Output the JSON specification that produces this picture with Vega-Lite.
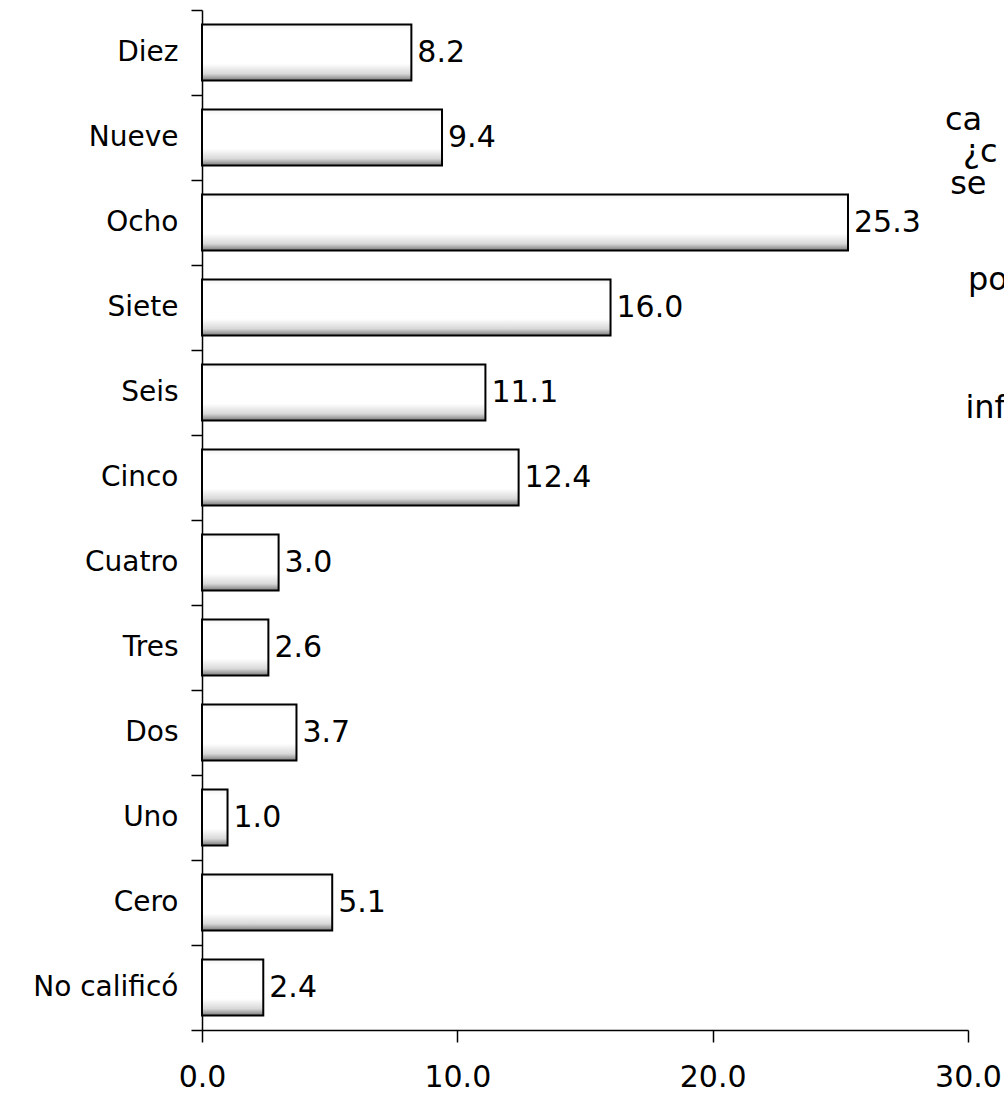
{
  "$schema": "https://vega.github.io/schema/vega-lite/v6.json",
  "autosize": "none",
  "width": 766,
  "height": 1020,
  "padding": {"left": 202, "top": 10, "right": 36, "bottom": 70},
  "background": "white",
  "config": {"view": {"stroke": null}, "font": "DejaVu Sans"},
  "datasets": {
    "bars": [
      {"cat": "Diez", "value": 8.2},
      {"cat": "Nueve", "value": 9.4},
      {"cat": "Ocho", "value": 25.3},
      {"cat": "Siete", "value": 16.0},
      {"cat": "Seis", "value": 11.1},
      {"cat": "Cinco", "value": 12.4},
      {"cat": "Cuatro", "value": 3.0},
      {"cat": "Tres", "value": 2.6},
      {"cat": "Dos", "value": 3.7},
      {"cat": "Uno", "value": 1.0},
      {"cat": "Cero", "value": 5.1},
      {"cat": "No calificó", "value": 2.4}
    ],
    "notes": [
      {"t": "ca", "x": 29.1, "line": 4},
      {"t": "¿c", "x": 29.8, "line": 5},
      {"t": "se", "x": 29.3, "line": 6},
      {"t": "po", "x": 30.0, "line": 9},
      {"t": "inf", "x": 29.9, "line": 13}
    ]
  },
  "layer": [
    {
      "data": {"name": "bars"},
      "encoding": {
        "y": {
          "field": "cat", "type": "nominal", "sort": null,
          "scale": {"paddingInner": 0, "paddingOuter": 0},
          "axis": {
            "title": null, "tickBand": "extent", "tickSize": 11, "labelPadding": 13,
            "labelFontSize": 28, "labelColor": "black", "domainColor": "black",
            "tickColor": "black", "domainWidth": 1.5, "tickWidth": 1.5
          }
        },
        "x": {
          "field": "value", "type": "quantitative",
          "scale": {"domain": [0, 30], "nice": false},
          "axis": {
            "title": null, "values": [0, 10, 20, 30], "format": ".1f", "grid": false,
            "tickSize": 12, "labelPadding": 20, "labelFontSize": 30, "labelColor": "black",
            "domainColor": "black", "tickColor": "black", "domainWidth": 1.5, "tickWidth": 1.5,
            "labelFlush": false
          }
        }
      },
      "layer": [
        {
          "mark": {
            "type": "bar", "stroke": "black", "strokeWidth": 2, "height": {"band": 0.66},
            "fill": {
              "gradient": "linear", "x1": 0, "y1": 0, "x2": 0, "y2": 1,
              "stops": [
                {"offset": 0, "color": "#f2f2f2"},
                {"offset": 0.1, "color": "#ffffff"},
                {"offset": 0.7, "color": "#ffffff"},
                {"offset": 0.88, "color": "#d8d8d8"},
                {"offset": 1, "color": "#7a7a7a"}
              ]
            }
          }
        },
        {
          "mark": {"type": "text", "align": "left", "baseline": "middle", "dx": 6, "fontSize": 30, "color": "black"},
          "encoding": {"text": {"field": "value", "type": "quantitative", "format": ".1f"}}
        }
      ]
    },
    {
      "data": {"name": "notes"},
      "mark": {"type": "text", "align": "left", "baseline": "alphabetic", "fontSize": 32, "color": "black", "clip": false},
      "encoding": {
        "x": {"field": "x", "type": "quantitative"},
        "y": {"field": "line", "type": "quantitative", "scale": {"domain": [0.25, 32.125], "reverse": true, "nice": false, "zero": false}, "axis": null},
        "text": {"field": "t"}
      }
    }
  ],
  "resolve": {"scale": {"y": "independent"}}
}
